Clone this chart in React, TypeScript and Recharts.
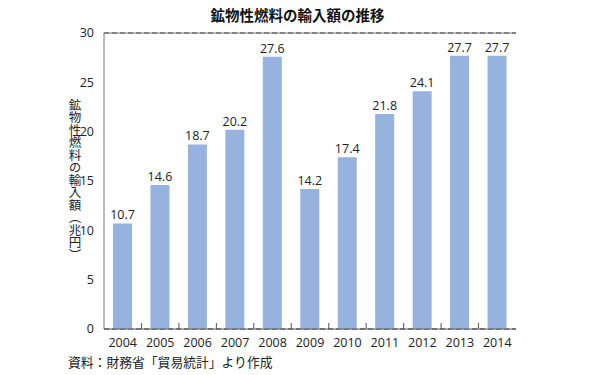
import React from 'react';
import { BarChart, Bar, XAxis, YAxis, CartesianGrid, LabelList, ReferenceLine, Label } from 'recharts';

const years = ['2004', '2005', '2006', '2007', '2008', '2009', '2010', '2011', '2012', '2013', '2014'];
const imports = [10.7, 14.6, 18.7, 20.2, 27.6, 14.2, 17.4, 21.8, 24.1, 27.7, 27.7];
const yTicks = [0, 5, 10, 15, 20, 25, 30];

const data = years.map((year, i) => ({ year, value: imports[i] }));

const FONT = '"Open Sans", "Noto Sans CJK JP", sans-serif';
const JP = '"Noto Sans CJK JP", sans-serif';
const PLOT_W = 412;
const BAND = PLOT_W / years.length;

// tick label + small boundary tick pointing up into the plot
const YearTick = (props: any) => {
  const { x, y, payload, index } = props;
  return (
    <g>
      {index < years.length - 1 && (
        <line x1={x + BAND / 2} x2={x + BAND / 2} y1={y - 8} y2={y - 14} stroke="#555" strokeWidth={1} />
      )}
      <text x={x} y={y + 10} textAnchor="middle" fill="#222" fontSize={12.5} fontFamily={FONT}>
        {payload.value}
      </text>
    </g>
  );
};

const VerticalLabel = () => (
  <text
    x={75}
    y={180}
    textAnchor="middle"
    fill="#222"
    fontSize={12.5}
    fontFamily={JP}
    style={{ writingMode: 'vertical-rl', textOrientation: 'upright' } as any}
  >
    鉱物性燃料の輸入額（兆円）
  </text>
);

export default function App() {
  return (
    <div style={{ position: 'absolute', left: 0, top: 0, width: 595, height: 375, background: '#fff' }}>
      <div
        style={{
          position: 'absolute', left: 0, width: 595, top: 4, textAlign: 'center',
          fontFamily: JP, fontWeight: 700, fontSize: 14.5, color: '#111',
        }}
      >
        鉱物性燃料の輸入額の推移
      </div>
      <BarChart width={595} height={375} data={data} margin={{ top: 33, right: 79, left: 0, bottom: 26 }}>
        <CartesianGrid vertical={false} stroke="#222" strokeDasharray="5 3" />
        <XAxis
          dataKey="year"
          tick={<YearTick />}
          tickLine={false}
          axisLine={{ stroke: '#555' }}
          height={20}
          interval={0}
        />
        <YAxis
          yAxisId="left"
          width={104}
          domain={[0, 30]}
          ticks={yTicks}
          tickLine={false}
          axisLine={{ stroke: '#777' }}
          tick={{ fill: '#222', fontSize: 12.5, fontFamily: FONT }}
          tickMargin={4}
        >
          <Label content={<VerticalLabel />} />
        </YAxis>
        <YAxis yAxisId="right" orientation="right" width={0} domain={[0, 30]} tick={false} tickLine={false} axisLine={{ stroke: '#777' }} />
        <ReferenceLine yAxisId="left" y={30} stroke="#777" />
        <Bar yAxisId="left" dataKey="value" fill="#95b3de" barSize={19} isAnimationActive={false}>
          <LabelList dataKey="value" position="top" offset={4} fill="#222" fontSize={12.5} fontFamily={FONT} />
        </Bar>
      </BarChart>
      <div
        style={{
          position: 'absolute', left: 68, top: 352, fontFamily: JP, fontSize: 12.8, color: '#222',
        }}
      >
        資料：財務省「貿易統計」より作成
      </div>
    </div>
  );
}
